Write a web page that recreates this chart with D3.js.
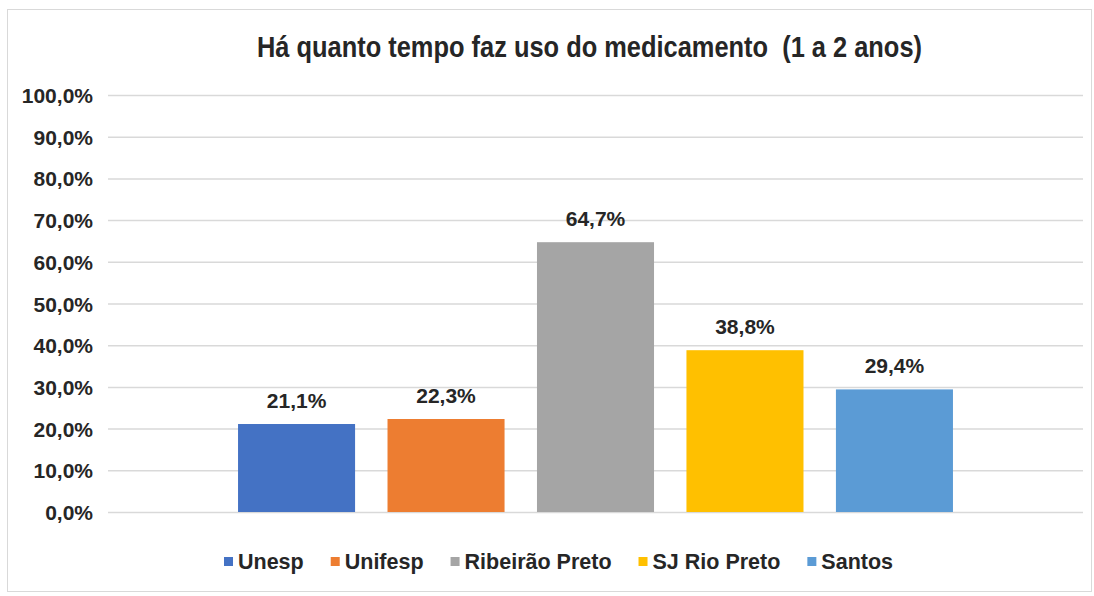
<!DOCTYPE html>
<html>
<head>
<meta charset="utf-8">
<script src="https://cdn.jsdelivr.net/npm/d3@7"></script>
<style>
  body { margin: 0; background: #fff; }
  text { font-family: "Liberation Sans", Arial, sans-serif; font-weight: bold; fill: #262626; }
</style>
</head>
<body>
<div id="chart"></div>
<script>
// chart data
const seriesNames = ['Unesp', 'Unifesp', 'Ribeirão Preto', 'SJ Rio Preto', 'Santos'];
const seriesValues = [21.1, 22.3, 64.7, 38.8, 29.4];
const seriesColors = ['#4472C4', '#ED7D31', '#A5A5A5', '#FFC000', '#5B9BD5'];
const yTicks = [0, 10, 20, 30, 40, 50, 60, 70, 80, 90, 100];
const titleText = 'Há quanto tempo faz uso do medicamento  (1 a 2 anos)';

const W = 1094, H = 596;
const plot = { left: 108, right: 1083, top: 95, bottom: 512 };

const svg = d3.select('#chart').append('svg')
  .attr('width', W).attr('height', H);

// outer frame
svg.append('rect')
  .attr('x', 7.5).attr('y', 9.5)
  .attr('width', 1084).attr('height', 582)
  .attr('fill', '#fff').attr('stroke', '#d9d9d9');

const fmt = v => v.toFixed(1).replace('.', ',') + '%';

const x = d3.scaleBand()
  .domain(seriesNames)
  .range([plot.left, plot.right])
  .paddingInner(0.217)
  .paddingOuter(0.87);

const y = d3.scaleLinear().domain([0, 100]).range([plot.bottom, plot.top]);

// gridlines + labels via axis
const yAxis = svg.append('g')
  .attr('transform', 'translate(' + plot.left + ',0)')
  .call(d3.axisLeft(y).tickValues(yTicks).tickFormat(fmt)
    .tickSize(-(plot.right - plot.left)).tickPadding(15));
yAxis.select('.domain').remove();
yAxis.selectAll('.tick line').attr('stroke', '#d9d9d9').attr('stroke-width', 1.5);
yAxis.selectAll('.tick text')
  .attr('font-size', 21).attr('fill', '#262626')
  .attr('dy', '0.36em');
yAxis.attr('font-family', null).attr('font-size', null);

// bars
svg.selectAll('.bar')
  .data(seriesNames)
  .enter().append('rect')
  .attr('class', 'bar')
  .attr('x', d => x(d))
  .attr('y', (d, i) => y(seriesValues[i]))
  .attr('width', x.bandwidth())
  .attr('height', (d, i) => plot.bottom - y(seriesValues[i]))
  .attr('fill', (d, i) => seriesColors[i]);

// value labels
svg.selectAll('.val')
  .data(seriesNames)
  .enter().append('text')
  .attr('class', 'val')
  .attr('x', d => x(d) + x.bandwidth() / 2)
  .attr('y', (d, i) => y(seriesValues[i]) - 16)
  .attr('text-anchor', 'middle')
  .attr('font-size', 21)
  .text((d, i) => fmt(seriesValues[i]));

// title
svg.append('text')
  .attr('x', 257).attr('y', 57)
  .attr('font-size', 30)
  .attr('fill', '#262626')
  .attr('textLength', 665)
  .attr('lengthAdjust', 'spacingAndGlyphs')
  .style('white-space', 'pre')
  .text(titleText);

// legend
const legend = svg.append('g').attr('transform', 'translate(224,569)');
const items = legend.selectAll('g')
  .data(seriesNames)
  .enter().append('g');
items.append('rect')
  .attr('width', 9).attr('height', 9)
  .attr('y', -12)
  .attr('fill', (d, i) => seriesColors[i]);
items.append('text')
  .attr('x', 14).attr('y', 0)
  .attr('font-size', 21.5)
  .text(d => d);
let cx = 0;
items.each(function () {
  const w = this.getBBox().width;
  d3.select(this).attr('transform', 'translate(' + cx + ',0)');
  cx += w + 27;
});
</script>
</body>
</html>
